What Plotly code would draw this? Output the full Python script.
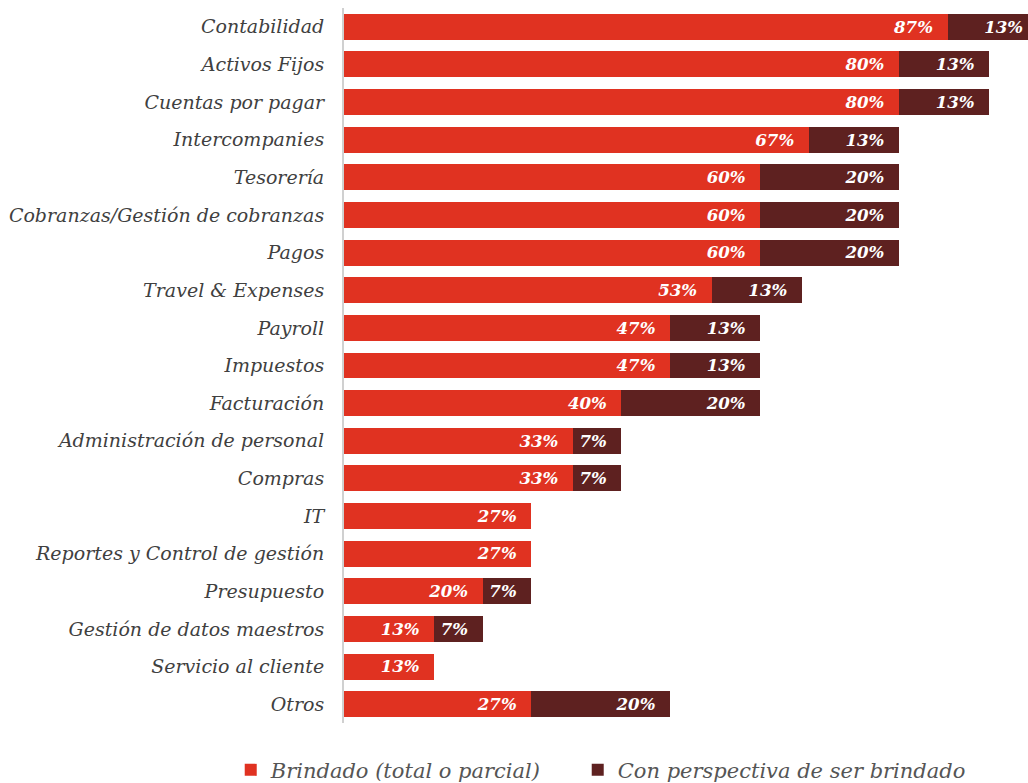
import plotly.graph_objects as go

categories = [
    "Contabilidad", "Activos Fijos", "Cuentas por pagar", "Intercompanies",
    "Tesorería", "Cobranzas/Gestión de cobranzas", "Pagos", "Travel & Expenses",
    "Payroll", "Impuestos", "Facturación", "Administración de personal",
    "Compras", "IT", "Reportes y Control de gestión", "Presupuesto",
    "Gestión de datos maestros", "Servicio al cliente", "Otros",
]
brindado = [87, 80, 80, 67, 60, 60, 60, 53, 47, 47, 40, 33, 33, 27, 27, 20, 13, 13, 27]
perspectiva = [13, 13, 13, 13, 20, 20, 20, 13, 13, 13, 20, 7, 7, None, None, 7, 7, None, 20]

RED = "#E03221"
DARK = "#5E2120"
SERIF = "DejaVu Serif"
PAD = "\u00a0\u00a0"  # keeps the value labels clear of the bar ends

def pct_labels(vals):
    return [f"{v}%{PAD}" if v else "" for v in vals]

label_font = dict(family=SERIF, size=20, color="white", style="italic", weight="bold")
legend_font = dict(family=SERIF, size=21, color="#555555", style="italic")

fig = go.Figure()
fig.add_trace(go.Bar(
    y=categories, x=brindado, orientation="h", name="Brindado (total o parcial)",
    marker=dict(color=RED, line=dict(width=0)),
    text=pct_labels(brindado), textposition="inside", insidetextanchor="end",
    textfont=label_font, textangle=0, legend="legend", showlegend=True,
))
fig.add_trace(go.Bar(
    y=categories, x=perspectiva, orientation="h", name="Con perspectiva de ser brindado",
    marker=dict(color=DARK, line=dict(width=0)),
    text=pct_labels(perspectiva), textposition="inside", insidetextanchor="end",
    textfont=label_font, textangle=0, legend="legend2", showlegend=True,
))

fig.update_layout(
    width=1028, height=783,
    barmode="stack", bargap=0.31,
    plot_bgcolor="white", paper_bgcolor="white",
    margin=dict(l=344, r=0, t=8, b=60, autoexpand=False),
    showlegend=True,
    uniformtext=dict(minsize=10, mode="show"),
    legend=dict(
        orientation="h", x=-0.1656, xanchor="left", y=-0.066, yanchor="middle",
        font=legend_font, itemwidth=30, visible=True,
    ),
    legend2=dict(
        orientation="h", x=0.3417, xanchor="left", y=-0.066, yanchor="middle",
        font=legend_font, itemwidth=30, visible=True,
    ),
    xaxis=dict(range=[0, 98.6], visible=False, showgrid=False, zeroline=False),
    yaxis=dict(
        autorange="reversed", showgrid=False, zeroline=False,
        showline=True, linecolor="#d0d0d0", linewidth=2,
        ticks="", ticklabelstandoff=14,
        tickfont=dict(family=SERIF, size=19, color="#404040", style="italic"),
    ),
)

fig.write_html("out.html")
